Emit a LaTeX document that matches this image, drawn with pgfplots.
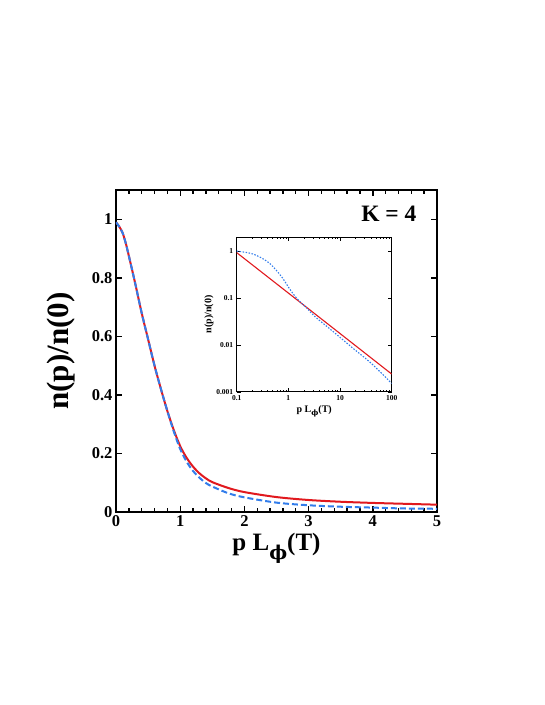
\documentclass[border=0pt]{standalone}
\usepackage{fontspec}
\setmainfont{Liberation Serif}
\newfontfamily\phifont{DejaVu Serif}
\usepackage{pgfplots}
\pgfplotsset{compat=1.18}
\definecolor{cred}{RGB}{225,25,30}
\definecolor{cblue}{RGB}{50,125,235}

\newcommand{\Lphi}[1]{p L\raisebox{-0.35em}{\fontsize{#1}{#1}\selectfont\phifont\bfseries ϕ}(T)}

\pgfplotstableread{
p n
0 0.99
0.05 0.975
0.1 0.955
0.15 0.92
0.2 0.875
0.3 0.78
0.4 0.68
0.5 0.59
0.6 0.5
0.7 0.42
0.8 0.345
0.9 0.28
1.0 0.225
1.1 0.185
1.2 0.155
1.3 0.132
1.4 0.115
1.5 0.102
1.75 0.082
2.0 0.068
2.5 0.051
3.0 0.041
3.5 0.035
4.0 0.031
4.5 0.028
5.0 0.025
}\mainred

\pgfplotstableread{
p n
0 0.99
0.05 0.975
0.1 0.955
0.15 0.92
0.2 0.875
0.3 0.78
0.4 0.68
0.5 0.59
0.6 0.5
0.7 0.42
0.8 0.345
0.9 0.275
1.0 0.215
1.1 0.172
1.2 0.14
1.3 0.117
1.4 0.099
1.5 0.087
1.75 0.064
2.0 0.05
2.5 0.032
3.0 0.023
3.5 0.018
4.0 0.015
4.5 0.012
5.0 0.011
}\mainblue

\pgfplotstableread{
p n
0.1 0.93
1 0.128
10 0.0176
100 0.00241
}\insetred

\pgfplotstableread{
p n
0.1 1.0
0.17 0.92
0.236 0.82
0.32 0.69
0.425 0.56
0.574 0.40
0.773 0.267
1.035 0.163
1.39 0.105
1.87 0.075
2.34 0.059
3.39 0.039
6.9 0.0205
16.8 0.0090
41 0.0040
100 0.00152
}\insetblue

\begin{document}
\begin{tikzpicture}
\path[use as bounding box] (0pt,0pt) rectangle (545pt,705pt);

% main axis
\begin{axis}[
  at={(116pt,193pt)}, anchor=south west,
  scale only axis, width=321pt, height=322pt,
  xmin=0, xmax=5, ymin=0, ymax=1.1,
  xtick={0,1,2,3,4,5}, xticklabels={0,1,2,3,4,5},
  minor x tick num=4,
  ytick={0,0.2,0.4,0.6,0.8,1}, yticklabels={0,0.2,0.4,0.6,0.8,1},
  tick align=inside,
  major tick length=6pt, minor tick length=4pt,
  axis line style={line width=1.8pt},
  every tick/.style={black, line width=1.4pt},
  tick label style={font=\fontsize{16.5}{16.5}\selectfont\bfseries},
  /pgf/number format/assume math mode=true,
  xlabel={\Lphi{19}},
  ylabel={n(p)/n(0)},
  label style={font=\fontsize{25}{25}\selectfont\bfseries},
  ylabel style={font=\fontsize{31}{31}\selectfont\bfseries,
    at={(axis description cs:-0.171,0.5)}, anchor=center},
  clip=true,
]
\addplot[cred, line width=2pt, smooth] table[x=p,y=n] {\mainred};
\addplot[cblue, line width=2pt, smooth, dash pattern=on 6pt off 3pt] table[x=p,y=n] {\mainblue};
\node[anchor=base east, font=\fontsize{23.5}{23.5}\selectfont\bfseries] at (rel axis cs:0.947,0.9015) {K = 4};
\end{axis}

% inset
\begin{axis}[
  at={(236.7pt,313pt)}, anchor=south west,
  scale only axis, width=155pt, height=155pt,
  xmode=log, ymode=log,
  xmin=0.1, xmax=100, ymin=0.001, ymax=2,
  xtick={0.1,1,10,100}, xticklabels={0.1,1,10,100},
  ytick={0.001,0.01,0.1,1}, yticklabels={0.001,0.01,0.1,1},
  yminorticks=false,
  tick align=inside,
  major tick length=4pt, minor tick length=2pt,
  axis line style={line width=1pt},
  every tick/.style={black, line width=0.7pt},
  tick label style={font=\fontsize{7.5}{7.5}\selectfont\bfseries},
  /pgf/number format/assume math mode=true,
  xlabel={\Lphi{7.5}},
  ylabel={n(p)/n(0)},
  label style={font=\fontsize{10}{10}\selectfont\bfseries},
  xlabel style={yshift=2pt},
  ylabel style={yshift=-4pt},
]
\addplot[cred, line width=1.1pt] table[x=p,y=n] {\insetred};
\addplot[cblue, line width=1.1pt, smooth, dash pattern=on 1.5pt off 1.5pt] table[x=p,y=n] {\insetblue};
\end{axis}
\end{tikzpicture}
\end{document}
